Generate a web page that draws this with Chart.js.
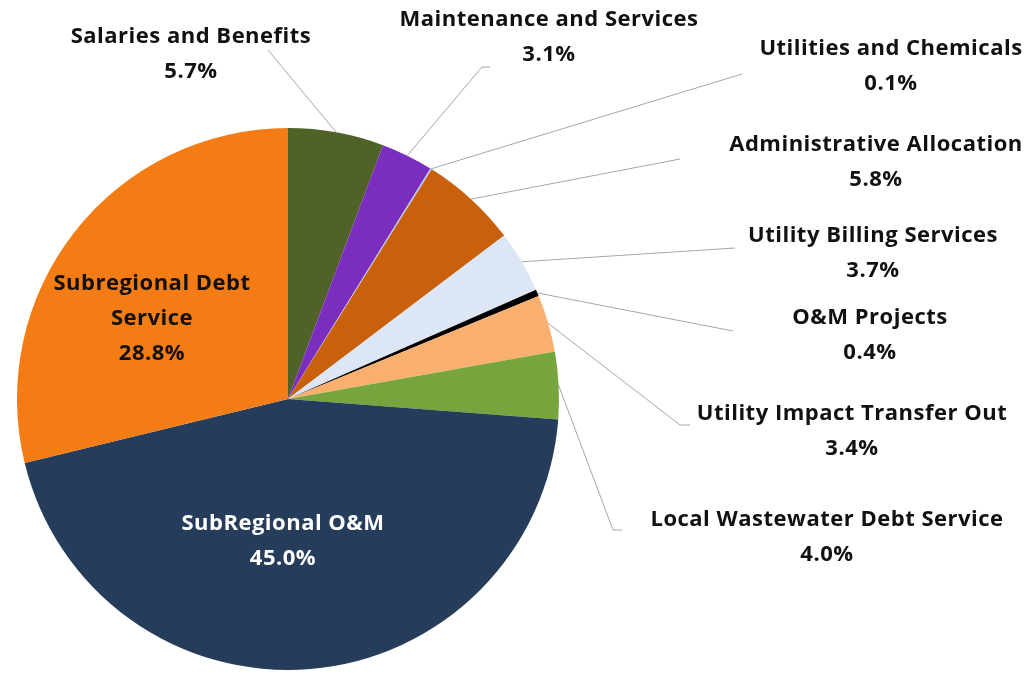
<!DOCTYPE html>
<html>
<head>
<meta charset="utf-8">
<script src="https://cdn.jsdelivr.net/npm/chart.js@4.4.1/dist/chart.umd.min.js"></script>
<style>
  html, body { margin: 0; padding: 0; background: #ffffff; }
  #wrap { width: 1028px; height: 673px; position: relative; }
</style>
</head>
<body>
<div id="wrap"><canvas id="c" width="1028" height="673"></canvas></div>
<script>
// ---- Data ----
const categories = [
  "Salaries and Benefits",
  "Maintenance and Services",
  "Utilities and Chemicals",
  "Administrative Allocation",
  "Utility Billing Services",
  "O&M Projects",
  "Utility Impact Transfer Out",
  "Local Wastewater Debt Service",
  "SubRegional O&M",
  "Subregional Debt Service"
];
const shares = [5.7, 3.1, 0.1, 5.8, 3.7, 0.4, 3.4, 4.0, 45.0, 28.8];
const percentLabels = ["5.7%", "3.1%", "0.1%", "5.8%", "3.7%", "0.4%", "3.4%", "4.0%", "45.0%", "28.8%"];

// ---- Styles ----
const sliceColors = [
  "#4F6228", "#7A2DBE", "#B4C7E7", "#C8600C", "#DCE6F4",
  "#000000", "#F9B06E", "#76A53E", "#253D5B", "#F47C14"
];

// ---- Label layout (text lines, anchor, leader elbow) ----
const labelLayout = [
  { lines: ["Salaries and Benefits"], cx: 191, y: 37, elbow: [[268, 50]] },
  { lines: ["Maintenance and Services"], cx: 549, y: 20, elbow: [[482, 67], [490, 67]] },
  { lines: ["Utilities and Chemicals"], cx: 891, y: 49, elbow: [[742, 74]] },
  { lines: ["Administrative Allocation"], cx: 876, y: 145, elbow: [[680, 159]] },
  { lines: ["Utility Billing Services"], cx: 873, y: 236, elbow: [[735, 248]] },
  { lines: ["O&M Projects"], cx: 870, y: 318, elbow: [[733, 331]] },
  { lines: ["Utility Impact Transfer Out"], cx: 852, y: 414, elbow: [[680, 425], [690, 425]] },
  { lines: ["Local Wastewater Debt Service"], cx: 827, y: 520, elbow: [[613, 530], [622, 530]] },
  { lines: ["SubRegional O&M"], cx: 283, y: 524, inside: true, color: "#ffffff" },
  { lines: ["Subregional Debt", "Service"], cx: 152, y: 284, inside: true, color: "#111111" }
];
const lineGap = 35;
const labelFont = "bold 22px 'Open Sans', Lato, sans-serif";

const labelPlugin = {
  id: 'pieLabels',
  afterDatasetsDraw(chart) {
    const ctx = chart.ctx;
    const meta = chart.getDatasetMeta(0);
    ctx.save();
    meta.data.forEach((arc, i) => {
      const L = labelLayout[i];
      if (!L) return;
      if (!L.inside && L.elbow) {
        const mid = (arc.startAngle + arc.endAngle) / 2;
        const sx = arc.x + Math.cos(mid) * arc.outerRadius;
        const sy = arc.y + Math.sin(mid) * arc.outerRadius;
        ctx.beginPath();
        ctx.strokeStyle = "#A6A6A6";
        ctx.lineWidth = 1;
        ctx.moveTo(sx, sy);
        L.elbow.forEach(p => ctx.lineTo(p[0], p[1]));
        ctx.stroke();
      }
      ctx.font = labelFont;
      if ('letterSpacing' in ctx) ctx.letterSpacing = "0.5px";
      ctx.fillStyle = L.color || "#111111";
      ctx.textAlign = "center";
      ctx.textBaseline = "middle";
      const all = L.lines.concat([percentLabels[i]]);
      all.forEach((t, k) => ctx.fillText(t, L.cx, L.y + k * lineGap));
    });
    ctx.restore();
  }
};

new Chart(document.getElementById('c'), {
  type: 'pie',
  data: {
    labels: categories,
    datasets: [{
      data: shares,
      backgroundColor: sliceColors,
      borderWidth: 0
    }]
  },
  options: {
    responsive: false,
    animation: false,
    layout: { padding: { left: 17, right: 469, top: 128, bottom: 3 } },
    plugins: {
      legend: { display: false },
      tooltip: { enabled: false }
    }
  },
  plugins: [labelPlugin]
});
</script>
</body>
</html>
